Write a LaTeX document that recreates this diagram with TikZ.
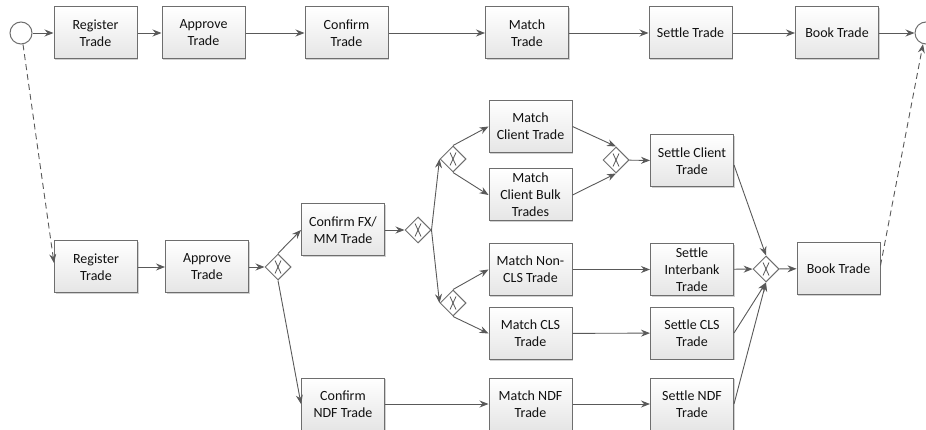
\documentclass[tikz,border=0pt]{standalone}
\usepackage{fontspec}
\setmainfont{Carlito}
\usetikzlibrary{arrows.meta,shapes.geometric,shadows}
\definecolor{lc}{HTML}{595959}
\definecolor{bc}{HTML}{6E6E6E}
\definecolor{tc}{HTML}{111111}
\begin{document}
\begin{tikzpicture}[x=1pt,y=-1pt,
  task/.style={draw=bc, line width=1pt, top color=white, bottom color=black!10,
    minimum width=83pt, minimum height=52pt, inner sep=1pt, align=center,
    font=\fontsize{14}{17}\selectfont, text=tc,
    drop shadow={shadow xshift=1.2pt, shadow yshift=-1.2pt, fill=black, opacity=0.18}},
  gw/.style={diamond, draw=bc, line width=1pt, fill=white, minimum width=26pt,
    minimum height=26pt, inner sep=0pt,
    path picture={
      \draw[lc,line width=0.8pt] ([shift={(-3pt,-6.5pt)}]path picture bounding box.center) -- ([shift={(3pt,6.5pt)}]path picture bounding box.center);
      \draw[lc,line width=0.8pt] ([shift={(3pt,-6.5pt)}]path picture bounding box.center) -- ([shift={(-3pt,6.5pt)}]path picture bounding box.center);}},
  ev/.style={circle, draw=bc, line width=1pt, fill=white, minimum size=22pt, inner sep=0pt},
  flow/.style={draw=lc, line width=0.9pt, -{Stealth[length=9pt,width=7pt,inset=3pt]}},
  dflow/.style={flow, dash pattern=on 6pt off 4pt}]
\useasboundingbox (0,0) rectangle (926,430);
% top row
\node[ev] (S) at (21,33) {};
\node[task] (tR) at (95.5,33) {Register\\Trade};
\node[task] (tA) at (203.5,33) {Approve\\Trade};
\node[task] (tC) at (346.5,33) {Confirm\\Trade};
\node[task] (tM) at (527,33) {Match\\Trade};
\node[task] (tS) at (690.5,33) {Settle Trade};
\node[task] (tB) at (837,33) {Book Trade};
\node[ev] (E) at (926,33) {};
% lower
\node[task] (R) at (96,267) {Register\\Trade};
\node[task] (A) at (207,267) {Approve\\Trade};
\node[gw] (G1) at (278,267) {};
\node[task] (CF) at (343,230) {Confirm FX/\\MM Trade};
\node[gw] (G2) at (418,230) {};
\node[gw] (G3) at (453,159) {};
\node[gw] (G6) at (453,303) {};
\node[task] (MC) at (530.5,126.5) {Match\\Client Trade};
\node[task] (MB) at (530.5,195) {Match\\Client Bulk\\Trades};
\node[gw] (G4) at (616,160) {};
\node[task] (SC) at (692,161) {Settle Client\\Trade};
\node[task] (MN) at (530.5,269.5) {Match Non-\\CLS Trade};
\node[task] (MCLS) at (530.5,333.5) {Match CLS\\Trade};
\node[task] (SI) at (692,269.5) {Settle\\Interbank\\Trade};
\node[task] (SCLS) at (692,333) {Settle CLS\\Trade};
\node[gw] (G5) at (766,269) {};
\node[task] (B) at (838.5,268.5) {Book Trade};
\node[task] (CN) at (343,404) {Confirm\\NDF Trade};
\node[task] (MNDF) at (530.5,404) {Match NDF\\Trade};
\node[task] (SNDF) at (692,404) {Settle NDF\\Trade};
% top flows
\draw[flow] (S) -- (tR);
\draw[flow] (tR) -- (tA);
\draw[flow] (tA) -- (tC);
\draw[flow] (tC) -- (tM);
\draw[flow] (tM) -- (tS);
\draw[flow] (tS) -- (tB);
\draw[flow] (tB) -- (E);
% dashed
\draw[dflow] (S.-80) -- ([yshift=4pt]R.west);
\draw[dflow] ([yshift=3pt]B.east) -- (E.-105);
% lower flows
\draw[flow] (R) -- (A);
\draw[flow] (A) -- (G1);
\draw[flow] (G1.north) -- (CF.west);
\draw[flow] (G1.south) -- (CN.west);
\draw[flow] (CF) -- (G2);
\draw[flow] (G2.east) -- (G3.west);
\draw[flow] (G2.east) -- (G6.west);
\draw[flow] (G3.north) -- (MC.west);
\draw[flow] (G3.south) -- (MB.west);
\draw[flow] (MC.east) -- (G4.north);
\draw[flow] (MB.east) -- (G4.south);
\draw[flow] (G4) -- (SC);
\draw[flow] (G6.north) -- (MN.west);
\draw[flow] (G6.south) -- (MCLS.west);
\draw[flow] (MN) -- (SI);
\draw[flow] (MCLS) -- (SCLS);
\draw[flow] (CN) -- (MNDF);
\draw[flow] (MNDF) -- (SNDF);
\draw[flow] ([yshift=-4pt]SC.east) -- (G5.north);
\draw[flow] (SI) -- (G5);
\draw[flow] (SCLS.east) -- (G5.south);
\draw[flow] (SNDF.east) -- (G5.south);
\draw[flow] (G5) -- (B);
\end{tikzpicture}
\end{document}
